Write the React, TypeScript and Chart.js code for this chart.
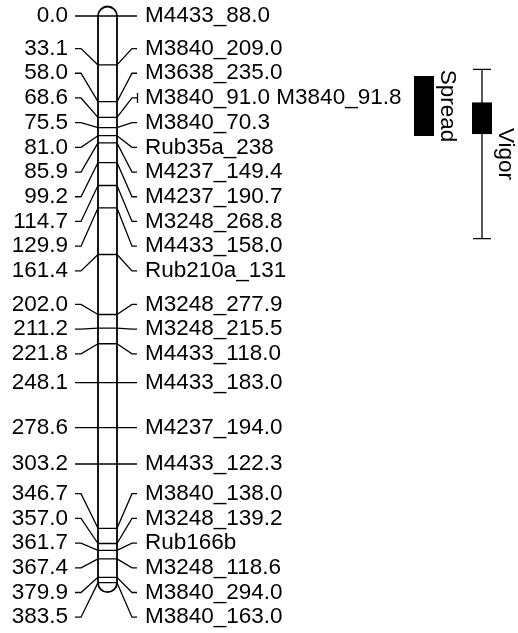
import React, { useEffect, useRef } from "react";
import { Chart, registerables } from "chart.js";

Chart.register(...registerables);

// ---- data ----
const positions: number[] = [
  0.0, 33.1, 58.0, 68.6, 75.5, 81.0, 85.9, 99.2, 114.7, 129.9, 161.4, 202.0,
  211.2, 221.8, 248.1, 278.6, 303.2, 346.7, 357.0, 361.7, 367.4, 379.9, 383.5,
];
const markers: string[] = [
  "M4433_88.0", "M3840_209.0", "M3638_235.0", "M3840_91.0 M3840_91.8",
  "M3840_70.3", "Rub35a_238", "M4237_149.4", "M4237_190.7", "M3248_268.8",
  "M4433_158.0", "Rub210a_131", "M3248_277.9", "M3248_215.5", "M4433_118.0",
  "M4433_183.0", "M4237_194.0", "M4433_122.3", "M3840_138.0", "M3248_139.2",
  "Rub166b", "M3248_118.6", "M3840_294.0", "M3840_163.0",
];
const qtlNames: string[] = ["Spread", "Vigor"];
const qtlOuterStart: number[] = [40.6, 36.1];
const qtlOuterEnd: number[] = [81.2, 150.6];
const qtlInnerStart: number[] = [40.6, 58.5];
const qtlInnerEnd: number[] = [81.2, 79.9];

// ---- layout (x in x-scale units = pixels) ----
const W = 518;
const H = 633;
const Y_MIN = -10.83;
const Y_MAX = 417.57;
const CHROM_L = 98;
const CHROM_R = 117;
const LEFT_TEXT_X = 68;
const LEFT_START = 75;
const LEFT_BEND = 81;
const RIGHT_BEND = 132;
const RIGHT_END = 137;
const RIGHT_TEXT_X = 145;
const LABEL_GAP = 24.7;
const QTL_BOX_L = [414, 472];
const QTL_BOX_R = [434, 492];
const QTL_TEXT_X = [447, 505];
const FONT = '22.5px "Liberation Sans", Arial, sans-serif';

function spreadLabels(pix: number[], gap: number): number[] {
  let clusters = pix.map((_, i) => ({ a: i, b: i }));
  const place = (c: { a: number; b: number }) => {
    const n = c.b - c.a + 1;
    const center = (pix[c.a] + pix[c.b]) / 2;
    return center - ((n - 1) * gap) / 2;
  };
  for (;;) {
    let best = -1;
    let bestOverlap = 1e-6;
    for (let i = 0; i < clusters.length - 1; i++) {
      const c = clusters[i];
      const d = clusters[i + 1];
      const cEnd = place(c) + (c.b - c.a) * gap;
      const overlap = gap - (place(d) - cEnd);
      if (overlap > bestOverlap) {
        bestOverlap = overlap;
        best = i;
      }
    }
    if (best < 0) break;
    const c = clusters[best];
    const d = clusters[best + 1];
    clusters.splice(best, 2, { a: c.a, b: d.b });
  }
  const out: number[] = [];
  clusters.forEach((c) => {
    const t = place(c);
    for (let k = c.a; k <= c.b; k++) out.push(t + (k - c.a) * gap);
  });
  return out;
}

const mapPlugin = {
  id: "linkageMap",
  afterDatasetsDraw(chart: any) {
    const ctx: CanvasRenderingContext2D = chart.ctx;
    const xs = chart.scales.x;
    const ys = chart.scales.y;
    const X = (v: number) => xs.getPixelForValue(v);
    const Y = (v: number) => ys.getPixelForValue(v);

    const actual = positions.map((p) => Y(p));
    const labelY = spreadLabels(actual, LABEL_GAP);

    const L = X(CHROM_L);
    const R = X(CHROM_R);
    const cx = (L + R) / 2;
    const r = (R - L) / 2;
    const yTop = Y(positions[0]);
    const yBot = Y(positions[positions.length - 1]);

    ctx.save();
    // chromosome body
    ctx.beginPath();
    ctx.moveTo(L, yTop);
    ctx.lineTo(L, yBot);
    ctx.arc(cx, yBot, r, Math.PI, 0, true);
    ctx.lineTo(R, yTop);
    ctx.arc(cx, yTop, r, 0, Math.PI, true);
    ctx.closePath();
    ctx.fillStyle = "#ffffff";
    ctx.fill();
    ctx.lineWidth = 1.8;
    ctx.strokeStyle = "#000000";
    ctx.stroke();

    // markers and connectors
    ctx.lineWidth = 1.3;
    ctx.strokeStyle = "#000000";
    positions.forEach((p, i) => {
      const ay = actual[i];
      const ly = labelY[i];
      ctx.beginPath();
      ctx.moveTo(L, ay);
      ctx.lineTo(R, ay);
      ctx.moveTo(X(LEFT_START), ly);
      ctx.lineTo(X(LEFT_BEND), ly);
      ctx.lineTo(L, ay);
      ctx.moveTo(R, ay);
      ctx.lineTo(X(RIGHT_BEND), ly);
      ctx.lineTo(X(RIGHT_END), ly);
      if (markers[i].includes(" ")) {
        ctx.moveTo(X(RIGHT_END) + 0.5, ly - 5);
        ctx.lineTo(X(RIGHT_END) + 0.5, ly + 5);
      }
      ctx.stroke();
    });

    // labels
    ctx.font = FONT;
    ctx.fillStyle = "#000000";
    ctx.textBaseline = "middle";
    positions.forEach((p, i) => {
      ctx.textAlign = "right";
      ctx.fillText(p.toFixed(1), X(LEFT_TEXT_X), labelY[i]);
      ctx.textAlign = "left";
      ctx.fillText(markers[i], X(RIGHT_TEXT_X), labelY[i]);
    });

    // QTLs
    qtlNames.forEach((name, q) => {
      const bl = X(QTL_BOX_L[q]);
      const br = X(QTL_BOX_R[q]);
      const mid = (bl + br) / 2;
      const o1 = Y(qtlOuterStart[q]);
      const o2 = Y(qtlOuterEnd[q]);
      const i1 = Y(qtlInnerStart[q]);
      const i2 = Y(qtlInnerEnd[q]);
      if (o1 !== i1 || o2 !== i2) {
        ctx.beginPath();
        ctx.lineWidth = 1.3;
        ctx.moveTo(mid, o1);
        ctx.lineTo(mid, o2);
        ctx.moveTo(bl + 1, o1);
        ctx.lineTo(br - 1, o1);
        ctx.moveTo(bl + 1, o2);
        ctx.lineTo(br - 1, o2);
        ctx.stroke();
      }
      ctx.fillStyle = "#000000";
      ctx.fillRect(bl, i1, br - bl, i2 - i1);
      ctx.save();
      ctx.translate(X(QTL_TEXT_X[q]), (o1 + o2) / 2);
      ctx.rotate(Math.PI / 2);
      ctx.textAlign = "center";
      ctx.textBaseline = "middle";
      ctx.font = FONT;
      ctx.fillText(name, 0, 0);
      ctx.restore();
    });
    ctx.restore();
  },
};

export default function App() {
  const ref = useRef<HTMLCanvasElement | null>(null);
  useEffect(() => {
    if (!ref.current) return;
    const chart = new Chart(ref.current, {
      type: "scatter",
      data: {
        datasets: [
          {
            label: "markers",
            data: positions.map((p) => ({ x: (CHROM_L + CHROM_R) / 2, y: p })),
            pointRadius: 0,
            showLine: false,
          },
        ],
      },
      options: {
        animation: false,
        responsive: false,
        maintainAspectRatio: false,
        devicePixelRatio: 1,
        layout: { padding: 0, autoPadding: false },
        plugins: { legend: { display: false }, tooltip: { enabled: false }, title: { display: false } },
        events: [],
        scales: {
          x: { type: "linear", min: 0, max: W, display: false },
          y: { type: "linear", min: Y_MIN, max: Y_MAX, reverse: true, display: false },
        },
      },
      plugins: [mapPlugin],
    } as any);
    return () => chart.destroy();
  }, []);
  return (
    <div style={{ position: "absolute", left: 0, top: 0, width: W, height: H, background: "#fff" }}>
      <canvas ref={ref} width={W} height={H} style={{ display: "block", width: W, height: H }} />
    </div>
  );
}
